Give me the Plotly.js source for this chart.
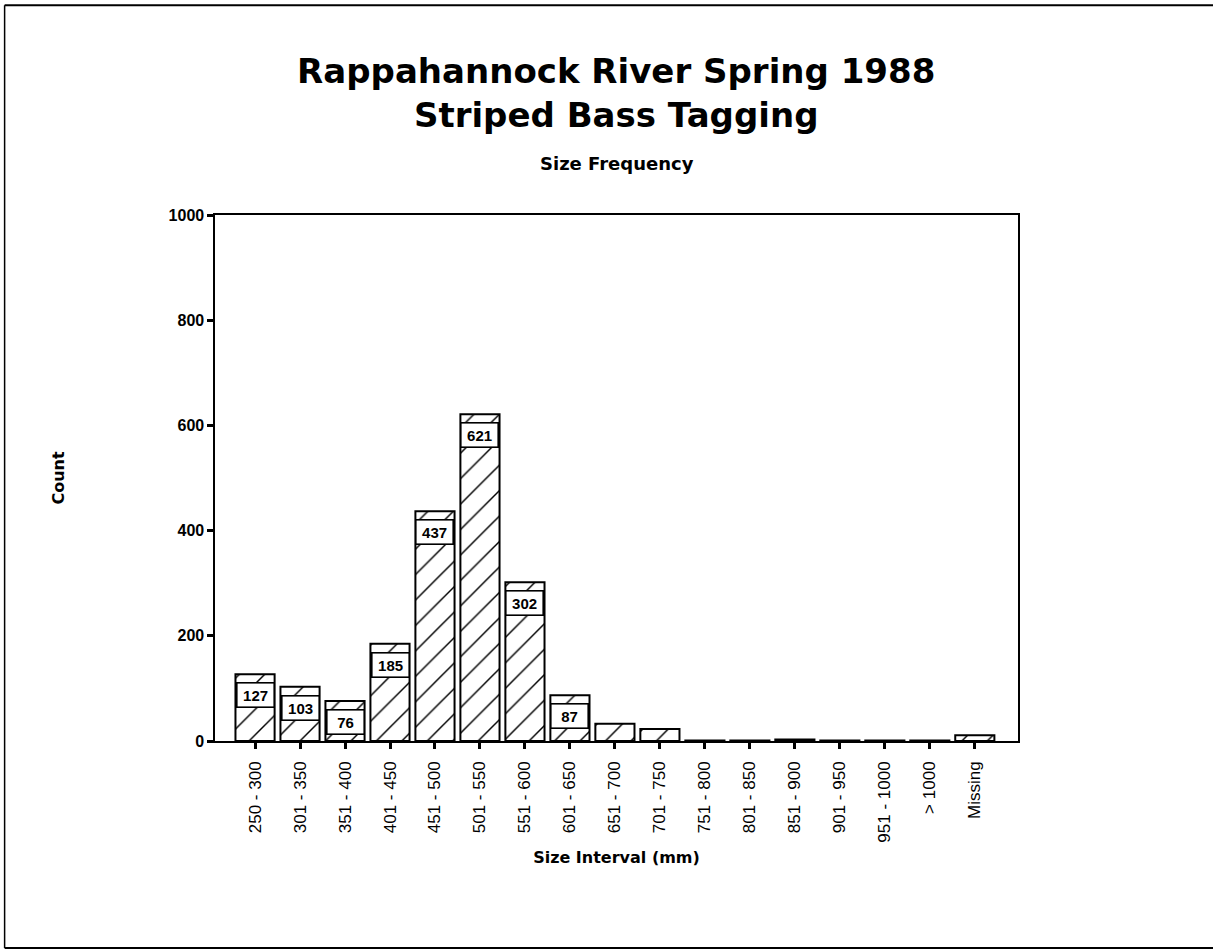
<!DOCTYPE html>
<html>
<head>
<meta charset="utf-8">
<script src="https://cdn.plot.ly/plotly-3.0.1.min.js"></script>
<style>
  html, body { margin: 0; padding: 0; background: #fff; }
  #chart { width: 1213px; height: 950px; }
</style>
</head>
<body>
<div id="chart"></div>
<script>
const categories = ['250 - 300','301 - 350','351 - 400','401 - 450','451 - 500','501 - 550','551 - 600','601 - 650','651 - 700','701 - 750','751 - 800','801 - 850','851 - 900','901 - 950','951 - 1000','> 1000','Missing'];
const counts = [127, 103, 76, 185, 437, 621, 302, 87, 33, 23, 1, 1, 3, 1, 1, 1, 11];
const labelledCounts = [127, 103, 76, 185, 437, 621, 302, 87];
const yTicks = [0, 200, 400, 600, 800, 1000];

const FONT = 'Liberation Sans, Arial, sans-serif';
const HEAVY = 'DejaVu Sans, Liberation Sans, sans-serif';

const bar = {
  type: 'bar',
  x: categories.map((c, i) => i),
  y: counts,
  width: 0.87,
  marker: {
    color: 'white',
    line: { color: 'black', width: 2 },
    pattern: { shape: '/', size: 18, solidity: 0.08, fgcolor: 'black', bgcolor: 'white', fillmode: 'replace' }
  },
  hoverinfo: 'x+y'
};

const annotations = [];
labelledCounts.forEach((v, i) => {
  annotations.push({
    x: i, y: v, xref: 'x', yref: 'y',
    text: String(v), showarrow: false,
    yanchor: 'top', yshift: -8,
    font: { family: FONT, size: 15, color: 'black', weight: 'bold' },
    bgcolor: 'white', bordercolor: 'black', borderwidth: 1.6, borderpad: 3,
    width: 30
  });
});
annotations.push({
  text: 'Size Frequency', xref: 'paper', yref: 'paper', x: 0.5, y: 1.0, yshift: 52,
  showarrow: false, xanchor: 'center', yanchor: 'middle',
  font: { family: HEAVY, size: 18, color: 'black', weight: 'bold' }
});

const layout = {
  width: 1213, height: 950,
  margin: { l: 215, r: 195, t: 215, b: 209 },
  paper_bgcolor: 'white', plot_bgcolor: 'white',
  showlegend: false,
  bargap: 0,
  title: {
    text: 'Rappahannock River Spring 1988<br>Striped Bass Tagging',
    font: { family: HEAVY, size: 34, color: 'black', weight: 'bold' },
    x: 0.508, xanchor: 'center', y: 0.913, yanchor: 'middle'
  },
  xaxis: {
    range: [-0.89, 16.96],
    tickmode: 'array',
    tickvals: categories.map((c, i) => i),
    ticktext: categories,
    tickangle: -90,
    ticks: 'outside', ticklen: 6, tickwidth: 3, tickcolor: 'black',
    ticklabelstandoff: 6,
    tickfont: { family: FONT, size: 17, color: 'black' },
    showline: true, linecolor: 'black', linewidth: 1.6, mirror: true,
    showgrid: false, zeroline: false,
    title: { text: 'Size Interval (mm)', font: { family: HEAVY, size: 16, color: 'black', weight: 'bold' }, standoff: 10 }
  },
  yaxis: {
    range: [0, 1000],
    tickmode: 'array', tickvals: yTicks, ticktext: yTicks.map(String),
    ticks: 'outside', ticklen: 6, tickwidth: 3, tickcolor: 'black',
    tickfont: { family: FONT, size: 16, color: 'black', weight: 'bold' },
    showline: true, linecolor: 'black', linewidth: 1.6, mirror: true,
    showgrid: false, zeroline: false,
    title: { text: 'Count', font: { family: HEAVY, size: 16, color: 'black', weight: 'bold' }, standoff: 100 }
  },
  annotations: annotations,
  shapes: [
    { type: 'line', xref: 'paper', yref: 'paper', x0: -0.262, x1: 1.245, y0: 1.399, y1: 1.399, line: { color: 'black', width: 2 } },
    { type: 'line', xref: 'paper', yref: 'paper', x0: -0.262, x1: -0.262, y0: 1.399, y1: -0.3935, line: { color: 'black', width: 1.5 } },
    { type: 'line', xref: 'paper', yref: 'paper', x0: -0.262, x1: 1.245, y0: -0.3935, y1: -0.3935, line: { color: 'black', width: 2 } }
  ]
};

Plotly.newPlot('chart', [bar], layout, { displayModeBar: false, staticPlot: true });
</script>
</body>
</html>
